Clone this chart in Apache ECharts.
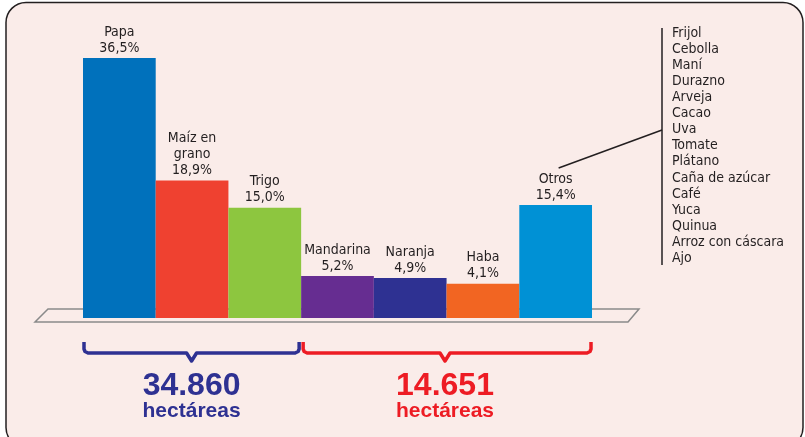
<!DOCTYPE html>
<html>
<head>
<meta charset="utf-8">
<script src="https://cdn.jsdelivr.net/npm/echarts@6/dist/echarts.min.js"></script>
<style>
  html, body { margin: 0; padding: 0; background: #ffffff; }
  #chart { width: 805px; height: 437px; }
</style>
</head>
<body>
<div id="chart"></div>
<script>
// datos del gráfico
const categorias = ['Papa', 'Maíz en grano', 'Trigo', 'Mandarina', 'Naranja', 'Haba', 'Otros']
const etiquetas = ['Papa', 'Maíz en\ngrano', 'Trigo', 'Mandarina', 'Naranja', 'Haba', 'Otros']
const porcentajes = [36.5, 18.9, 15.0, 5.2, 4.9, 4.1, 15.4]
const colores = ['#0071bc', '#ef4130', '#8dc63f', '#662d91', '#2e3192', '#f26522', '#0091d5']
const otrosCultivos = ['Frijol', 'Cebolla', 'Maní', 'Durazno', 'Arveja', 'Cacao', 'Uva', 'Tomate',
  'Plátano', 'Caña de azúcar', 'Café', 'Yuca', 'Quinua', 'Arroz con cáscara', 'Ajo']
const totales = ['34.860', '14.651']
const grupos = [[0, 2], [3, 6]]   // índices de categorías de cada llave
const coloresGrupo = ['#2e3192', '#ed1c24']

const fondo = '#faece9'
const fuente = "'Liberation Sans Narrow', 'DejaVu Sans Condensed', sans-serif"
const inicio = -0.83  // las barras arrancan un poco por debajo del cero, como en el original

const chart = echarts.init(document.getElementById('chart'))

chart.setOption({
  backgroundColor: '#ffffff',
  animation: false,
  grid: { left: 83, right: 213, top: 58, bottom: 119 },
  xAxis: {
    type: 'category',
    data: categorias,
    show: false
  },
  yAxis: { type: 'value', min: inicio, max: 36.5, startValue: inicio, show: false },
  series: [{
    type: 'bar',
    barWidth: '100%',
    z: 5,
    data: porcentajes.map((v, i) => ({ value: v, itemStyle: { color: colores[i] } })),
    label: {
      show: true,
      position: 'top',
      distance: 2,
      color: '#231f20',
      fontFamily: fuente,
      fontSize: 14,
      lineHeight: 16,
      formatter: p => etiquetas[p.dataIndex] + '\n' + p.value.toFixed(1).replace('.', ',') + '%'
    }
  }]
})

// elementos decorativos calculados a partir del eje
const centro = i => chart.convertToPixel({ xAxisIndex: 0 }, categorias[i])
const ancho = centro(1) - centro(0)
const izq = i => centro(i) - ancho / 2
const der = i => centro(i) + ancho / 2
const base = chart.convertToPixel({ yAxisIndex: 0 }, inicio)

const graficos = []

// marco redondeado
graficos.push({
  type: 'rect', z: 0,
  shape: { x: 6, y: 2.5, width: 797, height: 445, r: 20 },
  style: { fill: fondo, stroke: '#231f20', lineWidth: 1.5 }
})

// piso
graficos.push({
  type: 'polygon', z: 1,
  shape: { points: [[48, base - 9], [639, base - 9], [628, base + 4], [35, base + 4]] },
  style: { fill: fondo, stroke: '#8a8a8a', lineWidth: 1.5 }
})

// llaves y totales
grupos.forEach(([a, b], g) => {
  const x1 = izq(a) + (g === 0 ? 1 : 2)
  const x2 = der(b) - (g === 0 ? 2 : 1)
  const cx = g === 0 ? (x1 + x2) / 2 : 445
  const y0 = 342, y1 = 353
  graficos.push({
    type: 'polyline', z: 1,
    shape: {
      points: [[x1, y0], [x1, y1 - 4], [x1 + 1, y1 - 1.5], [x1 + 4, y1], [cx - 5, y1], [cx, y1 + 8],
        [cx + 5, y1], [x2 - 4, y1], [x2 - 1, y1 - 1.5], [x2, y1 - 4], [x2, y0]]
    },
    style: { fill: null, stroke: coloresGrupo[g], lineWidth: 3.5, lineJoin: 'round' }
  })
  graficos.push({
    type: 'text', z: 1,
    style: {
      x: cx, y: 386, text: totales[g], fill: coloresGrupo[g],
      font: "bold 32px 'Liberation Sans', sans-serif", align: 'center', verticalAlign: 'middle'
    }
  })
  graficos.push({
    type: 'text', z: 1,
    style: {
      x: cx, y: 411, text: 'hectáreas', fill: coloresGrupo[g],
      font: "bold 21px 'Liberation Sans', sans-serif", align: 'center', verticalAlign: 'middle'
    }
  })
})

// lista de otros cultivos
const ox = centro(6)
graficos.push({
  type: 'line', z: 1,
  shape: { x1: ox + 3, y1: 168, x2: 662, y2: 130 },
  style: { stroke: '#231f20', lineWidth: 1.5 }
})
graficos.push({
  type: 'line', z: 1,
  shape: { x1: 662, y1: 28, x2: 662, y2: 265 },
  style: { stroke: '#231f20', lineWidth: 1.5 }
})
graficos.push({
  type: 'text', z: 1,
  style: {
    x: 672, y: 25, text: otrosCultivos.join('\n'), fill: '#231f20',
    fontFamily: fuente, fontSize: 14, lineHeight: 16.1, align: 'left', verticalAlign: 'top'
  }
})

chart.setOption({ graphic: { elements: graficos } })
</script>
</body>
</html>
